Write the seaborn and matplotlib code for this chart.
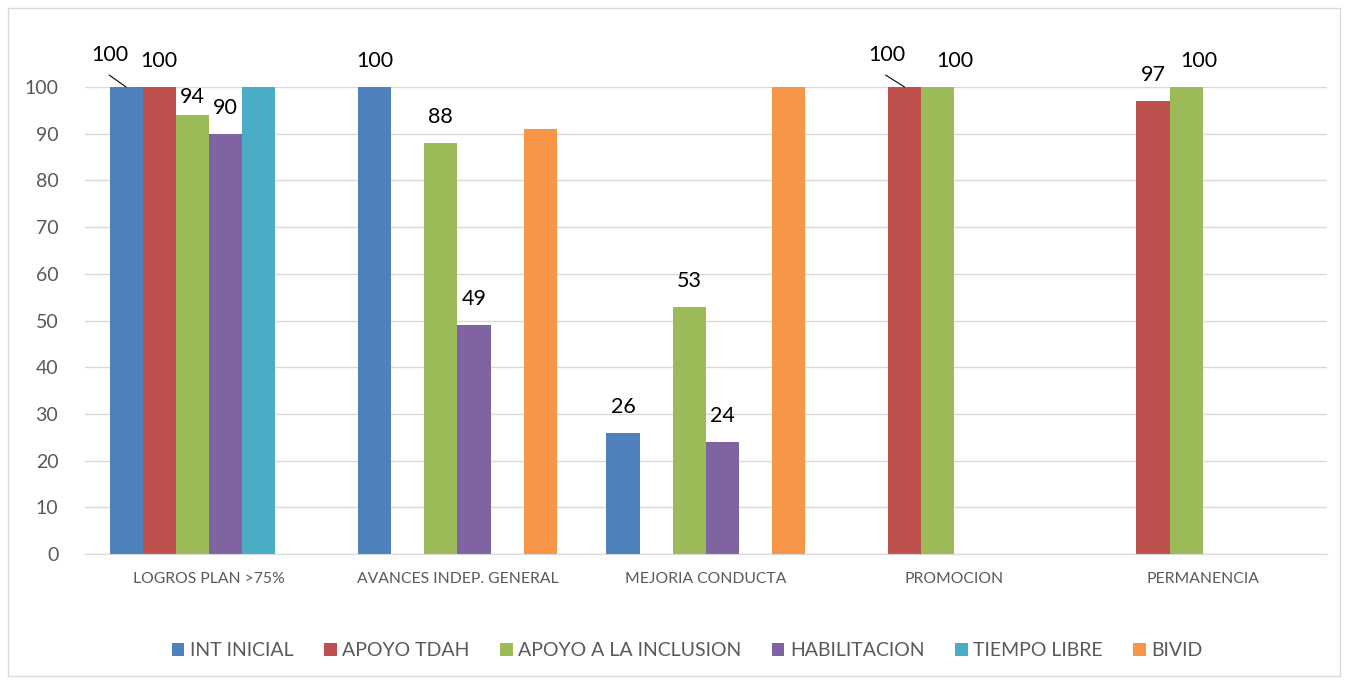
import numpy as np
import pandas as pd
import seaborn as sns
import matplotlib.pyplot as plt
from matplotlib.patches import Rectangle

# datos del grafico
categorias = ["LOGROS PLAN >75%", "AVANCES INDEP. GENERAL", "MEJORIA CONDUCTA",
              "PROMOCION", "PERMANENCIA"]
series = ["INT INICIAL", "APOYO TDAH", "APOYO A LA INCLUSION", "HABILITACION",
          "TIEMPO LIBRE", "BIVID"]

int_inicial = [100, 100, 26, np.nan, np.nan]
apoyo_tdah = [100, np.nan, np.nan, 100, 97]
apoyo_inclusion = [94, 88, 53, 100, 100]
habilitacion = [90, 49, 24, np.nan, np.nan]
tiempo_libre = [100, np.nan, np.nan, np.nan, np.nan]
bivid = [np.nan, 91, 100, np.nan, np.nan]

valores = [int_inicial, apoyo_tdah, apoyo_inclusion, habilitacion, tiempo_libre, bivid]
colores = ["#4F81BD", "#C0504D", "#9BBB59", "#8064A2", "#4BACC6", "#F79646"]

# series con etiqueta de datos
con_etiqueta = ["INT INICIAL", "APOYO TDAH", "APOYO A LA INCLUSION", "HABILITACION"]

rows = []
for s, vals in zip(series, valores):
    for c, v in zip(categorias, vals):
        rows.append({"categoria": c, "serie": s, "valor": v})
df = pd.DataFrame(rows)

sns.set_style("white")
plt.rcParams['font.family'] = ['Lato', 'DejaVu Sans']

fig = plt.figure(figsize=(13.45, 6.81), dpi=100)
ax = fig.add_axes([0.063, 0.1865, 0.9236, 0.6857])

sns.barplot(data=df, x="categoria", y="valor", hue="serie", order=categorias,
            hue_order=series, palette=colores, saturation=1, width=0.8,
            edgecolor="none", ax=ax, legend=True)

ax.set_ylim(0, 100)
ax.set_xlim(-0.5, len(categorias) - 0.5)
ax.set_yticks(range(0, 101, 10))
ax.yaxis.grid(True, color="#D9D9D9", lw=1)
ax.set_axisbelow(True)
for side in ["left", "right", "top"]:
    ax.spines[side].set_visible(False)
ax.spines["bottom"].set_color("#D9D9D9")
ax.tick_params(axis="both", length=0)
ax.tick_params(axis="y", labelsize=14, labelcolor="#595959", pad=19)
ax.tick_params(axis="x", labelsize=11.3, labelcolor="#595959", pad=13)
ax.set_xlabel("")
ax.set_ylabel("")

# desplazamientos de etiquetas (pixeles) para algunos casos
desplaz = {("APOYO A LA INCLUSION", "LOGROS PLAN >75%"): (0, 18),
           ("APOYO A LA INCLUSION", "PROMOCION"): (17, 26),
           ("APOYO A LA INCLUSION", "PERMANENCIA"): (13, 26)}
guia = {("INT INICIAL", "LOGROS PLAN >75%"): (-16, 32),
        ("APOYO TDAH", "PROMOCION"): (-18, 32)}

for s, cont in zip(series, ax.containers):
    for bar in cont:
        h = bar.get_height()
        if np.isnan(h) or s not in con_etiqueta:
            continue
        xc = bar.get_x() + bar.get_width() / 2
        c = categorias[int(round(xc))]
        if (s, c) in guia:
            dx, dy = guia[(s, c)]
            ax.annotate("", xy=(xc, h), xytext=(dx - 1, dy - 20), textcoords="offset pixels",
                        arrowprops=dict(arrowstyle="-", color="black", lw=0.8,
                                        shrinkA=0, shrinkB=0))
        else:
            dx, dy = desplaz.get((s, c), (0, 26))
        ax.annotate(f"{h:.0f}", xy=(xc, h), xytext=(dx, dy), textcoords="offset pixels",
                    ha="center", va="center", fontsize=15.5, color="black",
                    annotation_clip=False)

handles, labels = ax.get_legend_handles_labels()
ax.get_legend().remove()
fig.legend(handles, labels, loc="center", bbox_to_anchor=(0.511, 0.045), ncol=6,
           frameon=False, fontsize=14, handlelength=0.65, handleheight=0.65,
           handletextpad=0.3, columnspacing=1.55, labelcolor="#595959")

fig.patches.append(Rectangle((8 / 1345, 5 / 681), 1332 / 1345, 668 / 681,
                             transform=fig.transFigure, fill=False,
                             edgecolor="#D9D9D9", lw=1))

fig.savefig("out.png", dpi=100)
